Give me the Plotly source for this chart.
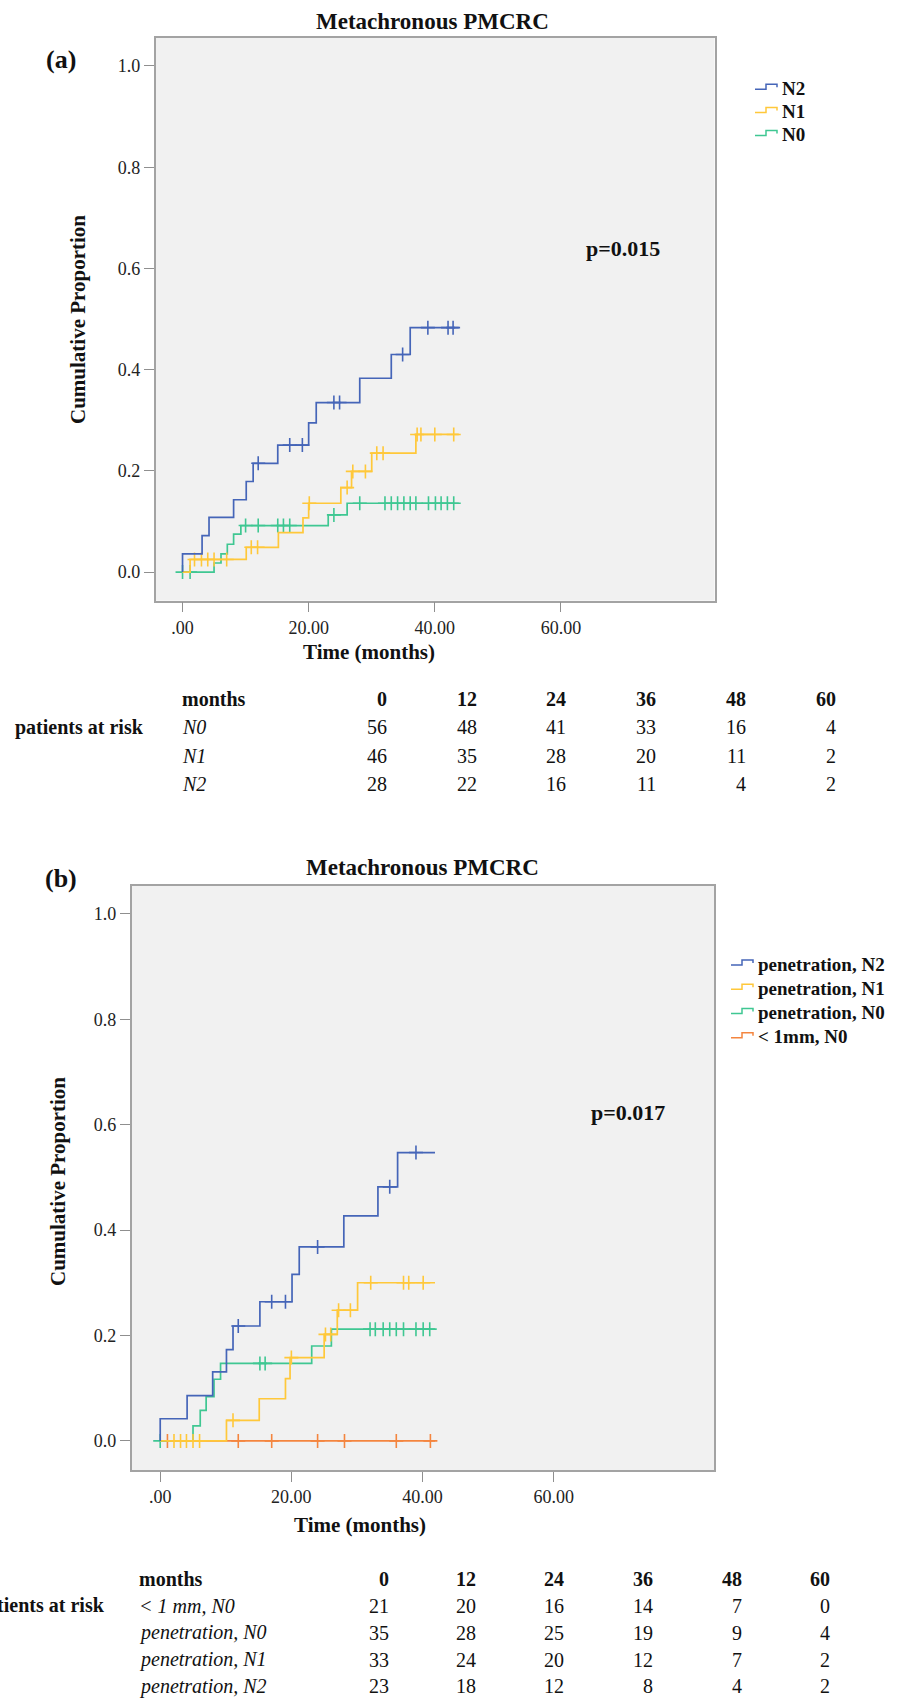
import plotly.graph_objects as go

W, H = 904, 1705
FONT = "Liberation Serif, Times New Roman, serif"

# ---------------- data: panel (a) ----------------
a_N2_t = [0.0, 3.1, 4.2, 8.1, 10.1, 11.2, 15.1, 20.0, 21.2, 28.1, 33.1, 36.1]
a_N2_p = [0.036, 0.072, 0.108, 0.143, 0.179, 0.215, 0.251, 0.295, 0.335, 0.383, 0.430, 0.483]
a_N2_c = [12.0, 17.0, 19.0, 24.0, 24.9, 34.9, 38.9, 42.1, 42.9]
a_N2_end = 43.8

a_N1_t = [1.2, 10.1, 15.2, 19.1, 20.0, 25.1, 26.8, 30.0, 37.0]
a_N1_p = [0.025, 0.049, 0.078, 0.107, 0.136, 0.167, 0.199, 0.235, 0.272]
a_N1_c = [1.9, 3.0, 4.0, 5.0, 7.0, 10.9, 11.9, 20.1, 26.1, 27.0, 29.0, 30.8, 31.8, 37.2, 37.8, 40.0, 43.0]
a_N1_end = 43.8

a_N0_t = [5.0, 6.1, 7.1, 8.1, 9.25, 23.1, 26.1]
a_N0_p = [0.018, 0.036, 0.055, 0.075, 0.092, 0.113, 0.136]
a_N0_c = [0.0, 1.2, 10.0, 12.0, 15.1, 16.0, 17.0, 24.0, 28.1, 32.1, 33.1, 34.1, 35.1,
          36.1, 37.0, 39.0, 40.1, 41.0, 42.0, 43.0]
a_N0_end = 43.8

a_names = ["N0", "N1", "N2"]
a_pvalue = "p=0.015"

# ---------------- data: panel (b) ----------------
b_PN2_t = [0.0, 4.1, 8.0, 10.1, 11.1, 15.2, 20.1, 21.2, 28.0, 33.2, 36.2]
b_PN2_p = [0.042, 0.086, 0.131, 0.173, 0.218, 0.264, 0.316, 0.368, 0.427, 0.482, 0.547]
b_PN2_c = [11.9, 17.0, 19.1, 24.0, 35.0, 39.0]
b_PN2_end = 41.9

b_PN1_t = [10.1, 15.1, 19.1, 19.8, 25.0, 27.0, 30.1]
b_PN1_p = [0.039, 0.080, 0.118, 0.158, 0.202, 0.248, 0.300]
b_PN1_c = [2.1, 3.1, 4.0, 5.0, 6.0, 11.1, 20.0, 25.2, 26.0, 27.2, 29.0, 32.1, 37.1, 37.9, 40.1]
b_PN1_end = 41.9

b_PN0_t = [5.0, 6.1, 7.0, 8.2, 9.2, 23.1, 26.1]
b_PN0_p = [0.0285, 0.058, 0.084, 0.117, 0.147, 0.180, 0.212]
b_PN0_c = [0.0, 15.2, 16.0, 32.0, 32.8, 34.0, 35.0, 36.0, 37.1, 39.0, 40.1, 41.1]
b_PN0_end = 41.9

b_L1N0_t = []
b_L1N0_p = []
b_L1N0_c = [1.1, 11.9, 17.0, 24.0, 28.1, 36.0, 41.2]
b_L1N0_end = 41.9

b_names = ["< 1mm, N0", "penetration, N0", "penetration, N1", "penetration, N2"]
b_pvalue = "p=0.017"

# ---------------- risk tables ----------------
risk_months = ["0", "12", "24", "36", "48", "60"]
a_risk_labels = ["N0", "N1", "N2"]
a_risk = [[56, 48, 41, 33, 16, 4],
          [46, 35, 28, 20, 11, 2],
          [28, 22, 16, 11, 4, 2]]
b_risk_labels = ["< 1 mm, N0", "penetration, N0", "penetration, N1", "penetration, N2"]
b_risk = [[21, 20, 16, 14, 7, 0],
          [35, 28, 25, 19, 9, 4],
          [33, 24, 20, 12, 7, 2],
          [23, 18, 12, 8, 4, 2]]

x_tickvals = [0, 20, 40, 60]
x_ticktext = [".00", "20.00", "40.00", "60.00"]
y_tickvals = [0, 0.2, 0.4, 0.6, 0.8, 1.0]
y_ticktext = ["0.0", "0.2", "0.4", "0.6", "0.8", "1.0"]

# ---------------- styling ----------------
C_BLUE = "#4565B8"
C_YELLOW = "#FFC83A"
C_GREEN = "#3FC792"
C_ORANGE = "#F4853F"


def px(x):
    return x / W


def py(y):
    return 1 - y / H


def step_value(times, probs, c):
    v = 0.0
    for t, p in zip(times, probs):
        if t <= c:
            v = p
    return v


fig = go.Figure()


def add_curve(times, probs, cens, end, color, name, xa, ya):
    xs = [0.0] + list(times) + [end]
    ys = [0.0] + list(probs) + [probs[-1] if probs else 0.0]
    fig.add_trace(go.Scatter(x=xs, y=ys, mode="lines", line=dict(color=color, width=1.7, shape="hv"),
                             name=name, xaxis=xa, yaxis=ya, showlegend=False, hoverinfo="skip"))
    fig.add_trace(go.Scatter(x=cens, y=[step_value(times, probs, c) for c in cens], mode="markers",
                             marker=dict(symbol="cross-thin", size=10, line=dict(color=color, width=1.6)),
                             xaxis=xa, yaxis=ya, showlegend=False, hoverinfo="skip"))


# panel (a)
add_curve(a_N0_t, a_N0_p, a_N0_c, a_N0_end, C_GREEN, a_names[0], "x", "y")
add_curve(a_N1_t, a_N1_p, a_N1_c, a_N1_end, C_YELLOW, a_names[1], "x", "y")
add_curve(a_N2_t, a_N2_p, a_N2_c, a_N2_end, C_BLUE, a_names[2], "x", "y")

# panel (b)
add_curve(b_L1N0_t, b_L1N0_p, b_L1N0_c, b_L1N0_end, C_ORANGE, b_names[0], "x2", "y2")
add_curve(b_PN0_t, b_PN0_p, b_PN0_c, b_PN0_end, C_GREEN, b_names[1], "x2", "y2")
add_curve(b_PN1_t, b_PN1_p, b_PN1_c, b_PN1_end, C_YELLOW, b_names[2], "x2", "y2")
add_curve(b_PN2_t, b_PN2_p, b_PN2_c, b_PN2_end, C_BLUE, b_names[3], "x2", "y2")

axis_common = dict(showgrid=False, zeroline=False, showline=True, linecolor="#A3A3A3", linewidth=1.5,
                   mirror=True, ticks="outside", ticklen=10, tickwidth=1.3, tickcolor="#8F8F8F",
                   tickfont=dict(family=FONT, size=18, color="#222"), fixedrange=True)

fig.update_layout(
    width=W, height=H, margin=dict(l=0, r=0, t=0, b=0),
    paper_bgcolor="white", plot_bgcolor="#F1F1F1", showlegend=False,
    xaxis=dict(domain=[px(155.6), px(714.5)], range=[-4.27, 84.35], anchor="y",
               tickvals=x_tickvals, ticktext=x_ticktext, **axis_common),
    yaxis=dict(domain=[py(600.6), py(38.0)], range=[-0.0563, 1.0553], anchor="x",
               tickvals=y_tickvals, ticktext=y_ticktext, **axis_common),
    xaxis2=dict(domain=[px(131.7), px(714.2)], range=[-4.35, 84.48], anchor="y2",
                tickvals=x_tickvals, ticktext=x_ticktext, **axis_common),
    yaxis2=dict(domain=[py(1470.1), py(885.7)], range=[-0.0554, 1.0533], anchor="x2",
                tickvals=y_tickvals, ticktext=y_ticktext, **axis_common),
)

ann = []
shapes = []


def text(x, y, s, size, bold=False, xanchor="center", angle=0, color="#111"):
    ann.append(dict(x=px(x), y=py(y), xref="paper", yref="paper", text=s, showarrow=False,
                    xanchor=xanchor, yanchor="middle", textangle=angle,
                    font=dict(family=FONT, size=size, color=color, weight="bold" if bold else "normal")))


def legend_item(x0, yc, label, color):
    # small step-line icon followed by bold label
    path = (f"M {px(x0)},{py(yc + 1)} H {px(x0 + 11)} V {py(yc - 4)} "
            f"H {px(x0 + 22)} V {py(yc - 1)}")
    shapes.append(dict(type="path", xref="paper", yref="paper", path=path,
                       line=dict(color=color, width=1.5)))
    text(x0 + 25, yc, label, 19, bold=True, xanchor="left")


# legends (top to bottom)
a_leg_rows = [88.3, 111.5, 134.5]
for yc, lab, col in zip(a_leg_rows, [a_names[2], a_names[1], a_names[0]], [C_BLUE, C_YELLOW, C_GREEN]):
    legend_item(755, yc, lab, col)
b_leg_rows = [964, 988.3, 1012.6, 1036.8]
for yc, lab, col in zip(b_leg_rows, [b_names[3], b_names[2], b_names[1], b_names[0]],
                        [C_BLUE, C_YELLOW, C_GREEN, C_ORANGE]):
    legend_item(731, yc, lab, col)

# titles and panel labels
text(432.5, 21, "Metachronous PMCRC", 23, bold=True)
text(422.5, 867, "Metachronous PMCRC", 23, bold=True)
text(60.5, 59, "(a)", 26, bold=True)
text(61, 878, "(b)", 26, bold=True)
# axis titles
text(78, 320, "Cumulative Proportion", 21, bold=True, angle=-90)
text(58, 1182, "Cumulative Proportion", 21, bold=True, angle=-90)
text(369, 652, "Time (months)", 21, bold=True)
text(360, 1525, "Time (months)", 21, bold=True)
# p-values
text(623, 249, a_pvalue, 22, bold=True)
text(628, 1112, b_pvalue, 22, bold=True)

# risk table (a)
a_cols = [389, 479, 568, 658, 748, 838]
a_rows = [727.3, 756, 784]
text(180, 699.3, "months", 20, bold=True, xanchor="left")
text(12.7, 727.3, "patients at risk", 20, bold=True, xanchor="left")
for j, m in enumerate(risk_months):
    text(a_cols[j], 699.3, m, 20, bold=True, xanchor="right")
for i, lab in enumerate(a_risk_labels):
    text(180, a_rows[i], "<i>" + lab + "</i>", 20, xanchor="left")
    for j, v in enumerate(a_risk[i]):
        text(a_cols[j], a_rows[i], str(v), 20, xanchor="right")

# risk table (b)
b_cols = [391, 478, 566, 655, 744, 832]
b_rows = [1605.5, 1632.5, 1659.5, 1686]
text(136.7, 1578.5, "months", 20, bold=True, xanchor="left")
text(106.7, 1605.5, "patients at risk", 20, bold=True, xanchor="right")
for j, m in enumerate(risk_months):
    text(b_cols[j], 1578.5, m, 20, bold=True, xanchor="right")
for i, lab in enumerate(b_risk_labels):
    text(136.7, b_rows[i], "<i>" + lab + "</i>", 20, xanchor="left")
    for j, v in enumerate(b_risk[i]):
        text(b_cols[j], b_rows[i], str(v), 20, xanchor="right")

fig.update_layout(annotations=ann, shapes=shapes)

fig.write_html("out.html", config={"displayModeBar": False},
               post_script="document.body.style.margin='0px';document.body.style.overflow='hidden';")
